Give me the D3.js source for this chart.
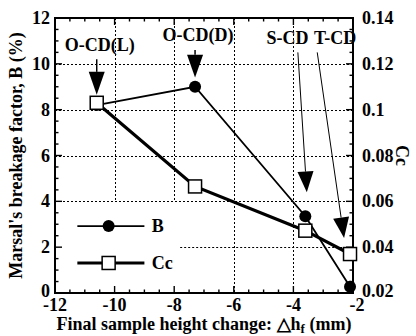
<!DOCTYPE html>
<html>
<head>
<meta charset="utf-8">
<script src="https://cdn.jsdelivr.net/npm/d3@7"></script>
<style>
  body { margin: 0; background: #fff; }
</style>
</head>
<body>
<div id="main"></div>
<script>
// data
const bX = [-10.6, -7.3, -3.6, -2.1];
const bValues = [8.2, 9.0, 3.35, 0.27];
const ccX = [-10.6, -7.3, -3.6, -2.1];
const ccValues = [0.103, 0.0665, 0.0472, 0.037];
const xTicks = [-12, -10, -8, -6, -4, -2];
const yTicks = [0, 2, 4, 6, 8, 10, 12];
const ccTicks = [0.02, 0.04, 0.06, 0.08, 0.1, 0.12, 0.14];
const labels = [
    {text: 'O-CD(L)', tx: -10.5, ty: 10.55, x0: -10.6, y0: 10.2, x1: -10.6, y1: 8.65, head: 1.0},
    {text: 'O-CD(D)', tx: -7.2, ty: 11.0, x0: -7.3, y0: 10.6, x1: -7.3, y1: 9.4, head: 1.0},
    {text: 'S-CD', tx: -4.2, ty: 10.85, x0: -3.85, y0: 10.5, x1: -3.55, y1: 4.4, head: 0.9},
    {text: 'T-CD', tx: -2.6, ty: 10.85, x0: -3.2, y0: 10.5, x1: -2.3, y1: 2.4, head: 0.9}
];

const FONT = 'Liberation Serif, Times New Roman, serif';
const width = 416;
const height = 336;
const margin = {left: 55, right: 63, top: 18, bottom: 43};

const svg = d3.select('#main').append('svg')
    .attr('width', width)
    .attr('height', height);

const x = d3.scaleLinear()
    .domain([-12, -2])
    .range([margin.left, width - margin.right]);
const y = d3.scaleLinear()
    .domain([0, 12])
    .range([height - margin.bottom, margin.top]);
const yc = d3.scaleLinear()
    .domain([0.02, 0.14])
    .range([height - margin.bottom, margin.top]);

function addText(sel, size) {
    return sel.attr('font-family', FONT)
        .attr('font-weight', 'bold')
        .attr('font-size', size)
        .attr('fill', '#000');
}

// dotted grid, left out of the legend corner
const vGrid = [-10, -8, -6, -4];
const hGrid = [2, 4, 6, 8, 10];
svg.selectAll('line.vgrid')
    .data(vGrid)
    .enter()
    .append('line')
    .attr('class', 'vgrid')
    .attr('x1', (d) => Math.round(x(d)) + 0.5)
    .attr('x2', (d) => Math.round(x(d)) + 0.5)
    .attr('y1', y(12))
    .attr('y2', (d) => d < -6 ? y(4) : y(0))
    .attr('stroke', '#000')
    .attr('stroke-width', 1)
    .attr('stroke-dasharray', '2,2');
svg.selectAll('line.hgrid')
    .data(hGrid)
    .enter()
    .append('line')
    .attr('class', 'hgrid')
    .attr('x1', (d) => d == 2 ? x(-7.8) : x(-12))
    .attr('x2', x(-2))
    .attr('y1', (d) => Math.round(y(d)) + 0.5)
    .attr('y2', (d) => Math.round(y(d)) + 0.5)
    .attr('stroke', '#000')
    .attr('stroke-width', 1)
    .attr('stroke-dasharray', '2,2');

// inward ticks on all four sides
const xMinor = d3.range(-12, -1.9, 0.5);
const yMinor = d3.range(0, 12.1, 0.5);
const isMajor = (v) => Math.abs(v - Math.round(v / 2) * 2) < 1e-6;

function tickLine(cls, data, attrs) {
    svg.selectAll('line.' + cls)
        .data(data)
        .enter()
        .append('line')
        .attr('class', cls)
        .attr('x1', attrs.x1).attr('x2', attrs.x2)
        .attr('y1', attrs.y1).attr('y2', attrs.y2)
        .attr('stroke', '#000')
        .attr('stroke-width', 1.4);
}
const len = (v) => isMajor(v) ? 7 : 3.5;
tickLine('tb', xMinor, {x1: (d) => x(d), x2: (d) => x(d), y1: y(0), y2: (d) => y(0) - len(d)});
tickLine('tt', xMinor, {x1: (d) => x(d), x2: (d) => x(d), y1: y(12), y2: (d) => y(12) + len(d)});
tickLine('tl', yMinor, {x1: x(-12), x2: (d) => x(-12) + len(d), y1: (d) => y(d), y2: (d) => y(d)});
tickLine('tr', yMinor, {x1: x(-2), x2: (d) => x(-2) - len(d), y1: (d) => y(d), y2: (d) => y(d)});

// tick labels
addText(svg.selectAll('text.xt')
    .data(xTicks)
    .enter()
    .append('text')
    .attr('class', 'xt')
    .attr('x', (d) => x(d) + (d == -2 ? 4 : 0))
    .attr('y', y(0) + 18)
    .attr('text-anchor', 'middle')
    .text((d) => d), 18);
addText(svg.selectAll('text.yt')
    .data(yTicks)
    .enter()
    .append('text')
    .attr('class', 'yt')
    .attr('x', x(-12) - 5)
    .attr('y', (d) => y(d) + (d == 0 ? 4 : 6))
    .attr('text-anchor', 'end')
    .text((d) => d), 18);
addText(svg.selectAll('text.ct')
    .data(ccTicks)
    .enter()
    .append('text')
    .attr('class', 'ct')
    .attr('x', x(-2) + 9)
    .attr('y', (d) => yc(d) + (d == 0.02 ? 4 : 6))
    .text((d) => d), 18);

// frame
svg.append('rect')
    .attr('x', x(-12)).attr('y', y(12))
    .attr('width', x(-2) - x(-12)).attr('height', y(0) - y(12))
    .attr('fill', 'none')
    .attr('stroke', '#000')
    .attr('stroke-width', 2);

// series
const bPts = bX.map((d, i) => [d, bValues[i]]);
const ccPts = ccX.map((d, i) => [d, ccValues[i]]);

svg.append('path')
    .attr('fill', 'none')
    .attr('stroke', '#000')
    .attr('stroke-width', 3.2)
    .attr('d', d3.line().x((d) => x(d[0])).y((d) => yc(d[1]))(ccPts));
svg.append('path')
    .attr('fill', 'none')
    .attr('stroke', '#000')
    .attr('stroke-width', 1.8)
    .attr('d', d3.line().x((d) => x(d[0])).y((d) => y(d[1]))(bPts));

svg.selectAll('circle.b')
    .data(bPts)
    .enter()
    .append('circle')
    .attr('class', 'b')
    .attr('cx', (d) => x(d[0]))
    .attr('cy', (d) => y(d[1]))
    .attr('r', 6)
    .attr('fill', '#000');
svg.selectAll('rect.cc')
    .data(ccPts)
    .enter()
    .append('rect')
    .attr('class', 'cc')
    .attr('x', (d) => x(d[0]) - 6.5)
    .attr('y', (d) => yc(d[1]) - 6.5)
    .attr('width', 13)
    .attr('height', 13)
    .attr('fill', '#fff')
    .attr('stroke', '#000')
    .attr('stroke-width', 1.5);

// annotations with arrows
labels.forEach((l) => {
    addText(svg.append('text')
        .attr('x', x(l.tx))
        .attr('y', y(l.ty))
        .attr('text-anchor', 'middle')
        .text(l.text), 18);
    const px0 = x(l.x0), py0 = y(l.y0), px1 = x(l.x1), py1 = y(l.y1);
    const d = Math.hypot(px1 - px0, py1 - py0);
    const ux = (px1 - px0) / d, uy = (py1 - py0) / d;
    const hl = y(0) - y(l.head);
    const bx = px1 - ux * hl, by = py1 - uy * hl;
    const big = l.text.startsWith('O');
    svg.append('line')
        .attr('x1', px0).attr('y1', py0)
        .attr('x2', bx).attr('y2', by)
        .attr('stroke', '#000')
        .attr('stroke-width', big ? 1.5 : 1);
    const hw = 8;
    svg.append('path')
        .attr('d', `M${px1},${py1}L${bx - uy * hw},${by + ux * hw}L${bx + uy * hw},${by - ux * hw}Z`)
        .attr('fill', '#000');
});

// legend
const legend = [
    {name: 'B', ly: 2.92, w: 1.8},
    {name: 'Cc', ly: 1.31, w: 3.2}
];
legend.forEach((l, i) => {
    svg.append('line')
        .attr('x1', x(-11.25)).attr('x2', x(-9.0))
        .attr('y1', y(l.ly)).attr('y2', y(l.ly))
        .attr('stroke', '#000')
        .attr('stroke-width', l.w);
    if (i == 0) {
        svg.append('circle')
            .attr('cx', x(-10.2)).attr('cy', y(l.ly))
            .attr('r', 6).attr('fill', '#000');
    } else {
        svg.append('rect')
            .attr('x', x(-10.2) - 6.5).attr('y', y(l.ly) - 6.5)
            .attr('width', 13).attr('height', 13)
            .attr('fill', '#fff').attr('stroke', '#000').attr('stroke-width', 1.5);
    }
    addText(svg.append('text')
        .attr('x', x(-8.75))
        .attr('y', y(l.ly) + 6)
        .text(l.name), 18);
});

// axis titles
addText(svg.append('text')
    .attr('transform', `translate(22, ${(y(0) + y(12)) / 2}) rotate(-90)`)
    .attr('text-anchor', 'middle')
    .text("Marsal's breakage factor, B (%)"), 18);
addText(svg.append('text')
    .attr('transform', `translate(396, ${yc(0.08)}) rotate(90)`)
    .attr('text-anchor', 'middle')
    .text('Cc'), 18);
const xl = addText(svg.append('text')
    .attr('x', (x(-12) + x(-2)) / 2)
    .attr('y', 330)
    .attr('text-anchor', 'middle'), 18);
xl.append('tspan').text('Final sample height change: \u25B3h');
xl.append('tspan').attr('dy', 3).attr('font-size', 13).text('f');
xl.append('tspan').attr('dy', -3).text(' (mm)');
</script>
</body>
</html>
